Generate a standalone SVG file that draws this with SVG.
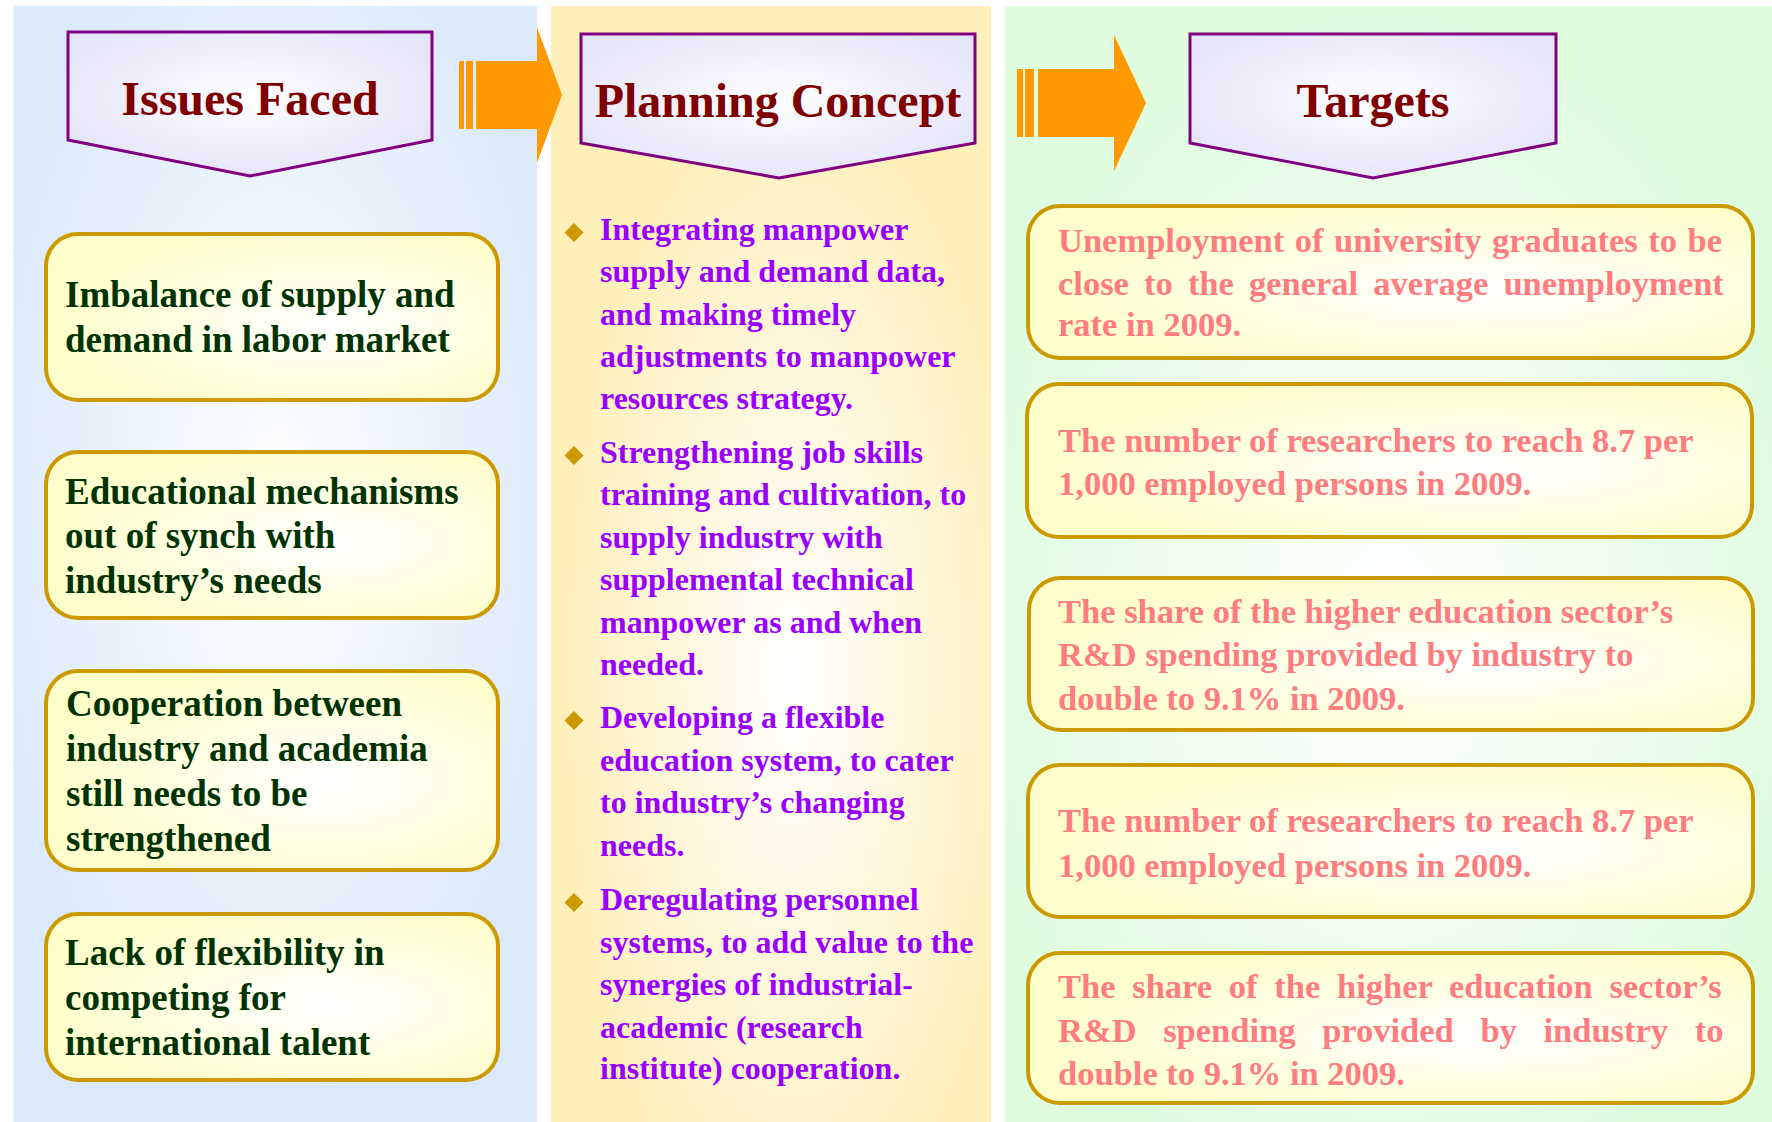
<svg xmlns="http://www.w3.org/2000/svg" width="1772" height="1122" viewBox="0 0 1772 1122">
  <defs>
    <radialGradient id="gBlue" cx="0.5" cy="0.45" r="0.55">
      <stop offset="0" stop-color="#FFFFFF"/>
      <stop offset="1" stop-color="#DBEAFB"/>
    </radialGradient>
    <radialGradient id="gYellow" cx="0.55" cy="0.6" r="0.55">
      <stop offset="0" stop-color="#FFFFFF"/>
      <stop offset="1" stop-color="#FFEFB8"/>
    </radialGradient>
    <radialGradient id="gGreen" cx="0.5" cy="0.55" r="0.55">
      <stop offset="0" stop-color="#FFFFFF"/>
      <stop offset="1" stop-color="#DFFCDF"/>
    </radialGradient>
    <radialGradient id="gHdr" cx="0.5" cy="0.45" r="0.55">
      <stop offset="0" stop-color="#FFFFFF"/>
      <stop offset="1" stop-color="#E6E6FA"/>
    </radialGradient>
    <radialGradient id="gBox" cx="0.62" cy="0.55" r="0.6">
      <stop offset="0" stop-color="#FFFFFF"/>
      <stop offset="1" stop-color="#FFFFCC"/>
    </radialGradient>
  </defs>
  <style>
    .hdr { fill: url(#gHdr); stroke: #800080; stroke-width: 3; }
    .hdrt { font-family: "Liberation Serif", "Times New Roman", serif; font-weight: bold; font-size: 48px; fill: #800000; text-anchor: middle; }
    .box { fill: url(#gBox); stroke: #CC9900; stroke-width: 4; }
    .lt { font-family: "Liberation Serif", "Times New Roman", serif; font-weight: bold; font-size: 37px; fill: #003300; }
    .mt { font-family: "Liberation Serif", "Times New Roman", serif; font-weight: bold; font-size: 32px; fill: #9900FF; }
    .rt { font-family: "Liberation Serif", "Times New Roman", serif; font-weight: bold; font-size: 34.5px; fill: #FF7C80; }
    .dia { fill: #CC9900; }
    .arr { fill: #FF9900; }
  </style>

  <rect width="1772" height="1122" fill="#FFFFFF"/>

  <g id="columns">
    <rect x="13.5" y="6" width="523.5" height="1116" fill="url(#gBlue)"/>
    <rect x="551" y="6" width="440" height="1116" fill="url(#gYellow)"/>
    <rect x="1005" y="6" width="767" height="1116" fill="url(#gGreen)"/>
  </g>

  <g id="connectors">
    <g id="arrow1">
      <rect class="arr" x="459" y="61" width="5" height="68"/>
      <rect class="arr" x="466" y="61" width="7" height="68"/>
      <polygon class="arr" points="476,61 537,61 537,27 562,95 537,163 537,129 476,129"/>
    </g>
    <g id="arrow2">
      <rect class="arr" x="1017" y="69" width="6" height="68"/>
      <rect class="arr" x="1025" y="69" width="9" height="68"/>
      <polygon class="arr" points="1038,69 1114,69 1114,35 1146,103 1114,171 1114,137 1038,137"/>
    </g>
  </g>

  <g id="hdr-issues">
    <polygon class="hdr" points="68,32 432,32 432,140 250,176 68,140"/>
    <text class="hdrt" x="250" y="115">Issues Faced</text>
  </g>
  <g id="hdr-planning">
    <polygon class="hdr" points="581,34 975,34 975,143 779,178 581,143"/>
    <text class="hdrt" x="778" y="117">Planning Concept</text>
  </g>
  <g id="hdr-targets">
    <polygon class="hdr" points="1190,34 1556,34 1556,143 1373,178 1190,143"/>
    <text class="hdrt" x="1373" y="117">Targets</text>
  </g>

  <g id="issue1">
    <rect class="box" x="46" y="234" width="452" height="166" rx="32"/>
    <text class="lt"><tspan x="65" y="307">Imbalance of supply and</tspan><tspan x="65" y="352">demand in labor market</tspan></text>
  </g>
  <g id="issue2">
    <rect class="box" x="46" y="452" width="452" height="166" rx="32"/>
    <text class="lt"><tspan x="65" y="504">Educational mechanisms</tspan><tspan x="65" y="548">out of synch with</tspan><tspan x="65" y="593">industry’s needs</tspan></text>
  </g>
  <g id="issue3">
    <rect class="box" x="46" y="671" width="452" height="199" rx="32"/>
    <text class="lt"><tspan x="66" y="716">Cooperation between</tspan><tspan x="66" y="761">industry and academia</tspan><tspan x="66" y="806">still needs to be</tspan><tspan x="66" y="851">strengthened</tspan></text>
  </g>
  <g id="issue4">
    <rect class="box" x="46" y="914" width="452" height="166" rx="32"/>
    <text class="lt"><tspan x="65" y="965">Lack of flexibility in</tspan><tspan x="65" y="1010">competing for</tspan><tspan x="65" y="1055">international talent</tspan></text>
  </g>

  <g id="concept1">
    <polygon class="dia" points="574,223 583.5,232.5 574,242 564.5,232.5"/>
    <text class="mt"><tspan x="600" y="240">Integrating manpower</tspan><tspan x="600" y="282">supply and demand data,</tspan><tspan x="600" y="325">and making timely</tspan><tspan x="600" y="367">adjustments to manpower</tspan><tspan x="600" y="409">resources strategy.</tspan></text>
  </g>
  <g id="concept2">
    <polygon class="dia" points="574,446 583.5,455.5 574,465 564.5,455.5"/>
    <text class="mt"><tspan x="600" y="463">Strengthening job skills</tspan><tspan x="600" y="505">training and cultivation, to</tspan><tspan x="600" y="548">supply industry with</tspan><tspan x="600" y="590">supplemental technical</tspan><tspan x="600" y="633">manpower as and when</tspan><tspan x="600" y="675">needed.</tspan></text>
  </g>
  <g id="concept3">
    <polygon class="dia" points="574,711 583.5,720.5 574,730 564.5,720.5"/>
    <text class="mt"><tspan x="600" y="728">Developing a flexible</tspan><tspan x="600" y="771">education system, to cater</tspan><tspan x="600" y="813">to industry’s changing</tspan><tspan x="600" y="856">needs.</tspan></text>
  </g>
  <g id="concept4">
    <polygon class="dia" points="574,893 583.5,902.5 574,912 564.5,902.5"/>
    <text class="mt"><tspan x="600" y="910">Deregulating personnel</tspan><tspan x="600" y="953">systems, to add value to the</tspan><tspan x="600" y="995">synergies of industrial-</tspan><tspan x="600" y="1038">academic (research</tspan><tspan x="600" y="1079">institute) cooperation.</tspan></text>
  </g>

  <g id="target1">
    <rect class="box" x="1028" y="206" width="725" height="152" rx="32"/>
    <text class="rt" x="1058" y="252" word-spacing="1.9">Unemployment of university graduates to be</text>
    <text class="rt" x="1058" y="295" word-spacing="6.5">close to the general average unemployment</text>
    <text class="rt" x="1058" y="336">rate in 2009.</text>
  </g>
  <g id="target2">
    <rect class="box" x="1027" y="384" width="725" height="153" rx="32"/>
    <text class="rt"><tspan x="1058" y="452">The number of researchers to reach 8.7 per</tspan><tspan x="1058" y="495">1,000 employed persons in 2009.</tspan></text>
  </g>
  <g id="target3">
    <rect class="box" x="1029" y="578" width="724" height="152" rx="32"/>
    <text class="rt"><tspan x="1058" y="623">The share of the higher education sector’s</tspan><tspan x="1058" y="666">R&amp;D spending provided by industry to</tspan><tspan x="1058" y="710">double to 9.1% in 2009.</tspan></text>
  </g>
  <g id="target4">
    <rect class="box" x="1028" y="765" width="725" height="152" rx="32"/>
    <text class="rt"><tspan x="1058" y="832">The number of researchers to reach 8.7 per</tspan><tspan x="1058" y="877">1,000 employed persons in 2009.</tspan></text>
  </g>
  <g id="target5">
    <rect class="box" x="1028" y="953" width="725" height="150" rx="32"/>
    <text class="rt" x="1058" y="998" word-spacing="8.1">The share of the higher education sector’s</text>
    <text class="rt" x="1058" y="1042" word-spacing="18">R&amp;D spending provided by industry to</text>
    <text class="rt" x="1058" y="1085">double to 9.1% in 2009.</text>
  </g>
</svg>
